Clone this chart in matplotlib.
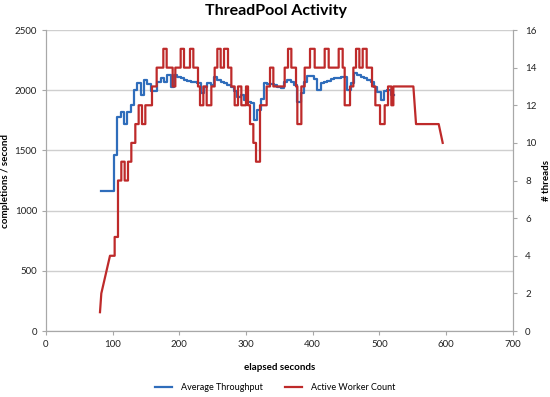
import matplotlib
matplotlib.use('Agg')
import matplotlib.pyplot as plt
import numpy as np

plt.rcParams['font.family'] = ['Lato', 'DejaVu Sans']

# average throughput (completions / second), one sample every 5 s from t = 82 s
blue_start = 82
blue_interval = 5
blue_vals = [1160, 1160, 1160, 1160, 1460, 1775, 1820, 1720, 1820, 1875,
             2000, 2057, 1960, 2085, 2050, 1990, 1990, 2070, 2100, 2070,
             2125, 2030, 2125, 2110, 2100, 2085, 2080, 2070, 2070, 2057,
             1975, 2030, 2057, 2040, 2110, 2085, 2070, 2057, 2040, 2030,
             1990, 1945, 1960, 1920, 1905, 1890, 1750, 1835, 1930, 2057,
             2050, 2050, 2045, 2030, 2015, 2070, 2085, 2070, 2040, 1900,
             1975, 2070, 2120, 2120, 2090, 2000, 2057, 2070, 2080, 2090,
             2100, 2100, 2110, 2110, 2000, 2060, 2140, 2125, 2110, 2100,
             2085, 2070, 2030, 1985, 1920, 1990, 2000, 1960]

# active worker count: ramp-up samples, then step changes, then wind-down samples
red_ramp_t = [81, 83, 96]
red_ramp_n = [1, 2, 4]
red_step_t = [96, 103, 108, 113, 118, 123, 128, 134, 139, 144, 149, 159, 166,
              176, 181, 190, 194, 202, 207, 216, 221, 228, 231, 236, 241, 248,
              253, 257, 262, 267, 273, 278, 283, 288, 293, 300, 303, 306, 311,
              315, 321, 331, 336, 341, 358, 363, 368, 375, 377, 383, 388, 396,
              403, 418, 424, 439, 445, 448, 456, 461, 465, 470, 475, 481, 489,
              494, 501, 508, 513, 518, 521]
red_step_n = [4, 5, 8, 9, 8, 9, 10, 11, 12, 11, 12, 13, 14,
              15, 14, 13, 14, 15, 14, 15, 14, 13, 12, 13, 12, 13,
              14, 15, 14, 15, 14, 13, 12, 13, 12, 13, 12, 11, 10,
              9, 12, 13, 14, 13, 14, 15, 14, 13, 11, 13, 14, 15,
              14, 15, 14, 15, 14, 12, 13, 14, 15, 14, 15, 14, 13,
              12, 11, 12, 13, 12, 13]
red_step_end = 551
red_tail_t = [555, 589, 595]
red_tail_n = [11, 11, 10]


def step_path(t, v, t_end):
    xs, ys = [], []
    edges = list(t) + [t_end]
    for i in range(len(v)):
        xs += [edges[i], edges[i + 1]]
        ys += [v[i], v[i]]
    return xs, ys


blue_t = blue_start + blue_interval * np.arange(len(blue_vals) + 1)
blue_v = blue_vals + [blue_vals[-1]]

sx, sy = step_path(red_step_t, red_step_n, red_step_end)
red_t = red_ramp_t + sx + red_tail_t
red_n = red_ramp_n + sy + red_tail_n

fig = plt.figure(figsize=(5.5, 3.97), dpi=100)
ax = fig.add_axes([0.0836, 0.1662, 0.8486, 0.7582])
ax2 = ax.twinx()

l1, = ax.plot(blue_t, blue_v, drawstyle='steps-post', color='#2F6DBB', lw=1.6,
              label='Average Throughput')
l2, = ax2.plot(red_t, red_n, color='#BE2A2A', lw=1.6, label='Active Worker Count')

ax.set_xlim(0, 700)
ax.set_ylim(0, 2500)
ax2.set_ylim(0, 16)
ax.set_xticks(range(0, 701, 100))
ax.set_yticks(range(0, 2501, 500))
ax2.set_yticks(range(0, 17, 2))

ax.yaxis.grid(True, color='#CFCFCF', lw=1)
ax.set_axisbelow(True)

for a in (ax, ax2):
    a.spines['top'].set_visible(False)
    for s in ('left', 'right', 'bottom'):
        a.spines[s].set_color('#A8A8A8')
    a.tick_params(labelsize=7, colors='#A8A8A8', labelcolor='#222222',
                  length=3, direction='out')
ax2.tick_params(pad=6)

ax.set_ylabel('completions / second', fontsize=7, fontweight='bold')
ax.yaxis.set_label_coords(-0.077, 0.5)
ax2.set_ylabel('# threads', fontsize=7, fontweight='bold')
ax2.yaxis.set_label_coords(1.062, 0.5)
ax.set_xlabel('elapsed seconds', fontsize=7, fontweight='bold', labelpad=10)

fig.text(0.502, 0.972, 'ThreadPool Activity', ha='center', va='center',
         fontsize=11.5, fontweight='bold')

fig.legend(handles=[l1, l2], loc='center', bbox_to_anchor=(0.5, 0.024), ncol=2,
           frameon=False, fontsize=6.5, handlelength=1.9, handletextpad=1.0,
           columnspacing=2.4)

fig.savefig('out.png', dpi=100)
